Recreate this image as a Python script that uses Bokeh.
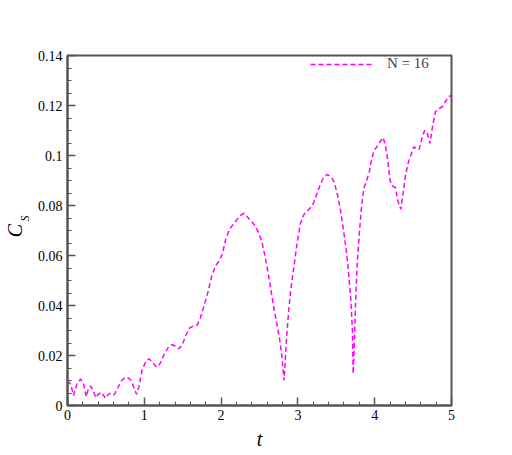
from bokeh.plotting import figure
from bokeh.models import (Range1d, SingleIntervalTicker, CustomJSTickFormatter,
                          Legend, LegendItem, Title, ColumnDataSource)
from bokeh.embed import file_html
from bokeh.resources import INLINE

# data
t = [0.00, 0.04, 0.08, 0.12, 0.17, 0.21, 0.245, 0.27, 0.30, 0.33, 0.37, 0.40,
     0.44, 0.47, 0.495, 0.52, 0.55, 0.58, 0.61, 0.65, 0.70, 0.75, 0.80, 0.84,
     0.87, 0.90, 0.93, 0.97, 1.01, 1.06, 1.10, 1.16, 1.20, 1.26, 1.31, 1.36,
     1.41, 1.45, 1.49, 1.54, 1.59, 1.64, 1.69, 1.73, 1.78, 1.83, 1.88, 1.93,
     1.98, 2.02, 2.06, 2.11, 2.16, 2.21, 2.26, 2.30, 2.34, 2.39, 2.44, 2.49,
     2.53, 2.57, 2.61, 2.65, 2.69, 2.73, 2.76, 2.79, 2.81, 2.82, 2.83, 2.85,
     2.88, 2.91, 2.95, 2.99, 3.03, 3.08, 3.13, 3.19, 3.24, 3.28, 3.33, 3.38,
     3.43, 3.47, 3.51, 3.55, 3.59, 3.63, 3.66, 3.69, 3.71, 3.72, 3.73, 3.75,
     3.77, 3.80, 3.83, 3.86, 3.90, 3.93, 3.96, 3.99, 4.03, 4.07, 4.11, 4.14,
     4.17, 4.20, 4.23, 4.27, 4.30, 4.34, 4.37, 4.40, 4.44, 4.48, 4.51, 4.55,
     4.58, 4.62, 4.65, 4.68, 4.72, 4.75, 4.79, 4.84, 4.88, 4.92, 4.96, 5.00]
cs = [0.0100, 0.0085, 0.0040, 0.0085, 0.0106, 0.0085, 0.0035, 0.0065, 0.0078,
      0.0062, 0.0031, 0.0045, 0.0053, 0.0040, 0.0029, 0.0040, 0.0049, 0.0042,
      0.0044, 0.0068, 0.0098, 0.0112, 0.0109, 0.0095, 0.0065, 0.0045, 0.0075,
      0.0140, 0.0170, 0.0187, 0.0175, 0.0153, 0.0165, 0.0205, 0.0232, 0.0244,
      0.0236, 0.0227, 0.0240, 0.0280, 0.0310, 0.0318, 0.0322, 0.0350, 0.0400,
      0.0455, 0.0520, 0.0560, 0.0580, 0.0610, 0.0665, 0.0705, 0.0725, 0.0745,
      0.0762, 0.0769, 0.0755, 0.0738, 0.0720, 0.0690, 0.0655, 0.0600, 0.0535,
      0.0460, 0.0385, 0.0320, 0.0270, 0.0200, 0.0130, 0.0100, 0.0150, 0.0260,
      0.0380, 0.0470, 0.0560, 0.0650, 0.0725, 0.0765, 0.0780, 0.0800, 0.0840,
      0.0875, 0.0910, 0.0924, 0.0915, 0.0895, 0.0850, 0.0790, 0.0710, 0.0620,
      0.0530, 0.0420, 0.0300, 0.0127, 0.0200, 0.0400, 0.0560, 0.0690, 0.0800,
      0.0870, 0.0905, 0.0935, 0.0985, 0.1020, 0.1035, 0.1055, 0.1072, 0.1040,
      0.0980, 0.0900, 0.0878, 0.0872, 0.0820, 0.0785, 0.0850, 0.0920, 0.0975,
      0.1010, 0.1035, 0.1025, 0.1025, 0.1075, 0.1100, 0.1095, 0.1048, 0.1110,
      0.1175, 0.1188, 0.1195, 0.1215, 0.1235, 0.1240]
series_label = "N = 16"
x_label = "t"
y_label_main = "C"
y_label_sub = "S"

FONT = "Liberation Serif"
GRAY = "#555555"

W, H = 508, 452
p = figure(width=W, height=H, output_backend="svg", toolbar_location=None,
           x_range=Range1d(0, 5), y_range=Range1d(0, 0.14),
           min_border_left=67, min_border_right=W - 451, min_border_top=55,
           min_border_bottom=H - 405)
p.background_fill_color = "white"
p.border_fill_color = "white"
p.xgrid.visible = False
p.ygrid.visible = False
p.outline_line_color = GRAY
p.outline_line_width = 2

src = ColumnDataSource(dict(t=t, cs=cs))
r = p.line("t", "cs", source=src, line_color="#FF00FF", line_width=1.5,
           line_dash="5 3")

xa = p.xaxis[0]
ya = p.yaxis[0]
xa.ticker = SingleIntervalTicker(interval=1, num_minor_ticks=5)
ya.ticker = SingleIntervalTicker(interval=0.02, num_minor_ticks=4)
ya.formatter = CustomJSTickFormatter(code="""
var s = tick.toFixed(2);
s = s.replace(/0+$/, '').replace(/\\.$/, '');
return s;
""")
for ax in (xa, ya):
    ax.axis_line_color = GRAY
    ax.axis_line_width = 2
    ax.major_tick_in = 8
    ax.major_tick_out = 0
    ax.minor_tick_in = 4
    ax.minor_tick_out = 0
    ax.major_tick_line_color = GRAY
    ax.minor_tick_line_color = GRAY
    ax.major_tick_line_width = 1.5
    ax.minor_tick_line_width = 1
    ax.major_label_text_font = FONT
    ax.major_label_text_font_size = "14px"
    ax.major_label_text_color = "black"
xa.major_label_standoff = 4
ya.major_label_standoff = 5

xa.axis_label = x_label
xa.axis_label_text_font = FONT
xa.axis_label_text_font_style = "italic"
xa.axis_label_text_font_size = "20px"
xa.axis_label_text_color = "black"
xa.axis_label_standoff = 5

# y axis label "C" with subscript "S", as two titles in the left panel
t_sub = Title(text=y_label_sub, text_font=FONT, text_font_style="italic",
              text_font_size="12px", text_color="black", align="left",
              vertical_align="middle", offset=184)
t_main = Title(text=y_label_main, text_font=FONT, text_font_style="italic",
               text_font_size="20px", text_color="black", align="center",
               vertical_align="middle")
for tt, so in ((t_sub, 4), (t_main, -24)):
    try:
        tt.standoff = so
    except Exception:
        tt.standoff = 0
p.add_layout(t_sub, "left")
p.add_layout(t_main, "left")

legend = Legend(items=[LegendItem(label=series_label, renderers=[r])],
                location="top_right", padding=0, margin=0, spacing=0,
                glyph_width=63, glyph_height=16, label_height=16,
                label_width=64, label_standoff=14, label_text_font=FONT,
                label_text_font_size="15px", label_text_baseline="middle",
                border_line_color=None, background_fill_alpha=0)
p.add_layout(legend)

open("out.html", "w").write(file_html(p, INLINE))
